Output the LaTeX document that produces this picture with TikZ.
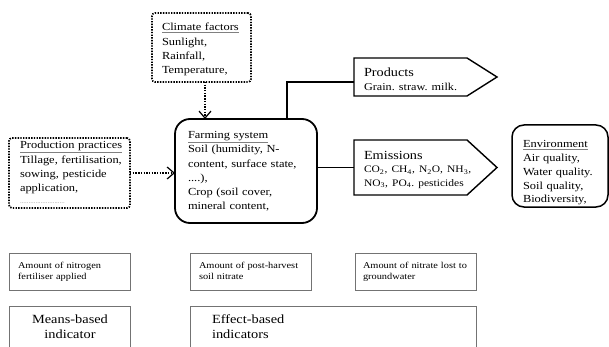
\documentclass[tikz,border=0pt]{standalone}
\usepackage{fontspec}
\setmainfont{Liberation Serif}[FakeStretch=1.15]
\usetikzlibrary{arrows.meta}
\frenchspacing
\newcommand\gul[1]{\rlap{\color{black!50}\underline{\phantom{#1}}}#1}
\newcommand\dotrow{{\color{black!45}\fontsize{6}{6}\selectfont ..........................}}
\begin{document}
\begin{tikzpicture}[x=1pt,y=-1pt,
  every node/.style={inner sep=0pt, outer sep=0pt},
  dotbox/.style={draw, line width=1.7pt, dash pattern=on 1.4pt off 1.3pt, rounded corners=3pt},
  roundbox/.style={draw, line width=1.8pt, rounded corners=15pt},
  thinbox/.style={draw=black!55, line width=0.9pt},
  body/.style={rectangle},
  sigline/.style={draw, line width=1.4pt, line join=miter},
  txt/.style={anchor=base west, text width=135pt, align=left, font=\fontsize{10.8}{14.3}\selectfont},
  small/.style={anchor=base west, text width=120pt, align=left, font=\fontsize{9}{11.3}\selectfont},
  big/.style={text width=150pt, font=\fontsize{12.5}{15}\selectfont},
  conn/.style={line width=1.3pt},
  dotarr/.style={line width=1.7pt, dash pattern=on 1.4pt off 1.3pt, -{Straight Barb[length=7pt,width=12pt,line width=1.2pt]}},
]
\useasboundingbox (0,0) rectangle (609,347);
\clip (0,0) rectangle (609,347);

% Climate factors
\node[dotbox, minimum width=99pt, minimum height=69pt] (climate) at (201.5,47.5) {};
\node[txt] (climateT) at (162,31) {\gul{Climate factors}\\Sunlight,\\Rainfall,\\Temperature,};

% Production practices
\node[dotbox, minimum width=121pt, minimum height=70pt] (prod) at (69.5,173) {};
\node[txt] (prodT) at (20,149) {\gul{Production practices}\\Tillage, fertilisation,\\sowing, pesticide\\application,\\[-3pt]\dotrow};

% Farming system
\node[roundbox, minimum width=142pt, minimum height=104pt] (farm) at (246,171) {};
\node[txt] (farmT) at (188,138.5) {\gul{Farming system}\\Soil (humidity, N-\\content, surface state,\\....),\\Crop (soil cover,\\mineral content,};

% Products (arrow-shaped box: body + point)
\node[body, minimum width=113pt, minimum height=38pt] (products) at (410.5,77) {};
\draw[sigline] (products.north west) -- (products.north east) -- ([xshift=30pt]products.east)
  -- (products.south east) -- (products.south west) -- cycle;
\node[txt, font=\fontsize{12.4}{15}\selectfont] (productsT) at (364,76.5) {Products\\[-0.5pt]{\fontsize{10.6}{12}\selectfont Grain. straw. milk.}};

% Emissions
\node[body, minimum width=113pt, minimum height=55pt] (emis) at (410.5,167.5) {};
\draw[sigline] (emis.north west) -- (emis.north east) -- ([xshift=30pt]emis.east)
  -- (emis.south east) -- (emis.south west) -- cycle;
\node[txt, font=\fontsize{12.4}{13.5}\selectfont] (emisT) at (364,159.5) {Emissions\\{\fontsize{10}{13.5}\selectfont CO\textsubscript{2}, CH\textsubscript{4}, N\textsubscript{2}O, NH\textsubscript{3},}\\{\fontsize{10}{13.5}\selectfont NO\textsubscript{3}, PO\textsubscript{4}. pesticides}};

% Environment
\node[draw, line width=1.5pt, rounded corners=12pt, minimum width=96pt, minimum height=82pt] (env) at (560,166) {};
\node[txt, font=\fontsize{10.8}{13.7}\selectfont] (envT) at (523,148) {\gul{Environment}\\Air quality,\\Water quality.\\Soil quality,\\Biodiversity,};

% Connectors
\draw[dotarr] ([xshift=3.5pt]climate.south) -- ([xshift=3.5pt]climate.south |- farm.north);
\draw[dotarr] (prod.east) -- (prod.east -| farm.west);
\draw[conn] ([xshift=112pt]farm.north west) |- ([yshift=-5pt]products.west);
\draw[conn] (farm.east |- emis.west) -- (emis.west);

% Bottom indicator boxes
\node[thinbox, minimum width=121pt, minimum height=37pt] (nit) at (69.5,271.5) {};
\node[small] (nitT) at (18,268) {Amount of nitrogen\\fertiliser applied};
\node[thinbox, minimum width=121pt, minimum height=37pt] (post) at (250.5,271.5) {};
\node[small] (postT) at (199,268) {Amount of post-harvest\\soil nitrate};
\node[thinbox, minimum width=121pt, minimum height=37pt] (lost) at (415.5,271.5) {};
\node[small] (lostT) at (363,268) {Amount of nitrate lost to\\groundwater};

\node[thinbox, minimum width=121pt, minimum height=64pt] (means) at (69.5,338) {};
\node[big, anchor=base, align=center] (meansT) at (70,323) {Means-based\\indicator};
\node[thinbox, minimum width=286pt, minimum height=64pt] (effect) at (333,338) {};
\node[big, anchor=base west, align=left] (effectT) at (212,323) {Effect-based\\indicators};
\end{tikzpicture}
\end{document}
